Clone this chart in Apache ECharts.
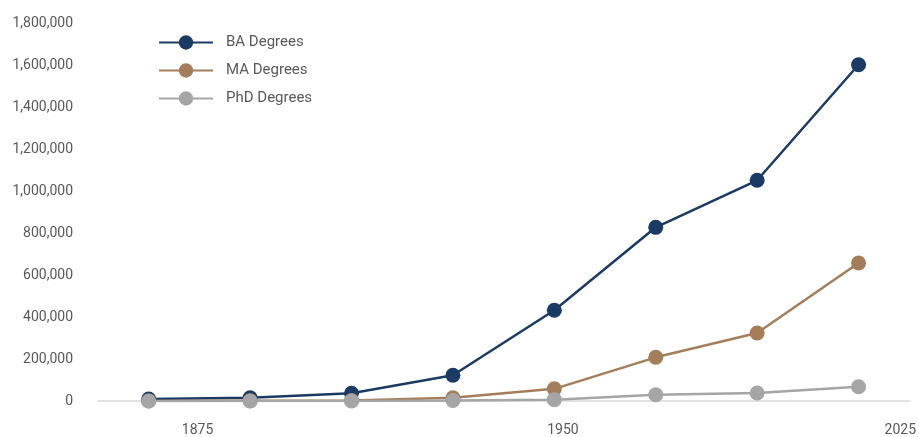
<!DOCTYPE html>
<html>
<head>
<meta charset="utf-8">
<script src="https://cdn.jsdelivr.net/npm/echarts@6/dist/echarts.min.js"></script>
<style>
  html, body { margin: 0; padding: 0; background: #ffffff; }
  #chart { width: 919px; height: 437px; }
</style>
</head>
<body>
<div id="chart"></div>
<script>
// Academic years of each observation (category positions)
const years = ['1869-70', '1889-90', '1909-10', '1929-30', '1949-50', '1969-70', '1989-90', '2008-09'];

// Degrees conferred per year
const baDegrees  = [9400, 15500, 37200, 122500, 432000, 827000, 1051000, 1601000];
const maDegrees  = [0, 1000, 2100, 15000, 58000, 208000, 324000, 657000];
const phdDegrees = [0, 150, 450, 2300, 6400, 29900, 38400, 67700];

// Year labels printed under the axis
const yearTicks = [1875, 1950, 2025];

const labelFont = 'Roboto, "Noto Sans", sans-serif';
const labelColor = '#595959';

const chart = echarts.init(document.getElementById('chart'), null, { renderer: 'canvas' });

function lineSeries(name, data, color) {
  return {
    name: name,
    type: 'line',
    xAxisIndex: 0,
    data: data,
    symbol: 'circle',
    symbolSize: 15,
    lineStyle: { color: color, width: 2.5 },
    itemStyle: { color: color },
    emphasis: { disabled: true },
    z: 3
  };
}

chart.setOption({
  animation: false,
  backgroundColor: '#ffffff',
  textStyle: { fontFamily: labelFont },
  grid: { left: 98, right: 8, top: 23, bottom: 34, containLabel: false },
  legend: {
    orient: 'vertical',
    left: 158,
    top: 35,
    padding: 0,
    itemWidth: 54,
    itemHeight: 18,
    itemGap: 13,
    textStyle: { color: labelColor, fontSize: 15, fontFamily: labelFont, padding: [0, 0, 0, 8] },
    data: ['BA Degrees', 'MA Degrees', 'PhD Degrees']
  },
  xAxis: [
    {
      type: 'category',
      data: years,
      boundaryGap: true,
      axisLine: { show: true, lineStyle: { color: '#d9d9d9', width: 1.5 } },
      axisTick: { show: false },
      axisLabel: { show: false },
      splitLine: { show: false }
    },
    {
      // Scale used only for the year labels along the bottom
      type: 'value',
      position: 'bottom',
      min: 1853.76,
      max: 2026.92,
      axisLine: { show: false },
      axisTick: { show: false },
      splitLine: { show: false },
      axisLabel: {
        customValues: yearTicks,
        margin: 22,
        color: labelColor,
        fontSize: 14,
        fontFamily: labelFont,
        formatter: function (v) {
          return v === 1950 ? '{shift|' + v + '}' : String(v);
        },
        rich: {
          shift: { padding: [0, 0, 0, 28], color: labelColor, fontSize: 14, fontFamily: labelFont }
        }
      }
    }
  ],
  yAxis: {
    type: 'value',
    min: 0,
    max: 1800000,
    interval: 200000,
    axisLine: { show: false },
    axisTick: { show: false },
    splitLine: { show: false },
    axisLabel: {
      margin: 25,
      color: labelColor,
      fontSize: 14,
      fontFamily: labelFont,
      formatter: function (v) { return v.toLocaleString('en-US'); }
    }
  },
  series: [
    lineSeries('BA Degrees', baDegrees, '#1b3a64'),
    lineSeries('MA Degrees', maDegrees, '#a47e5a'),
    lineSeries('PhD Degrees', phdDegrees, '#a5a5a5')
  ]
});
</script>
</body>
</html>
